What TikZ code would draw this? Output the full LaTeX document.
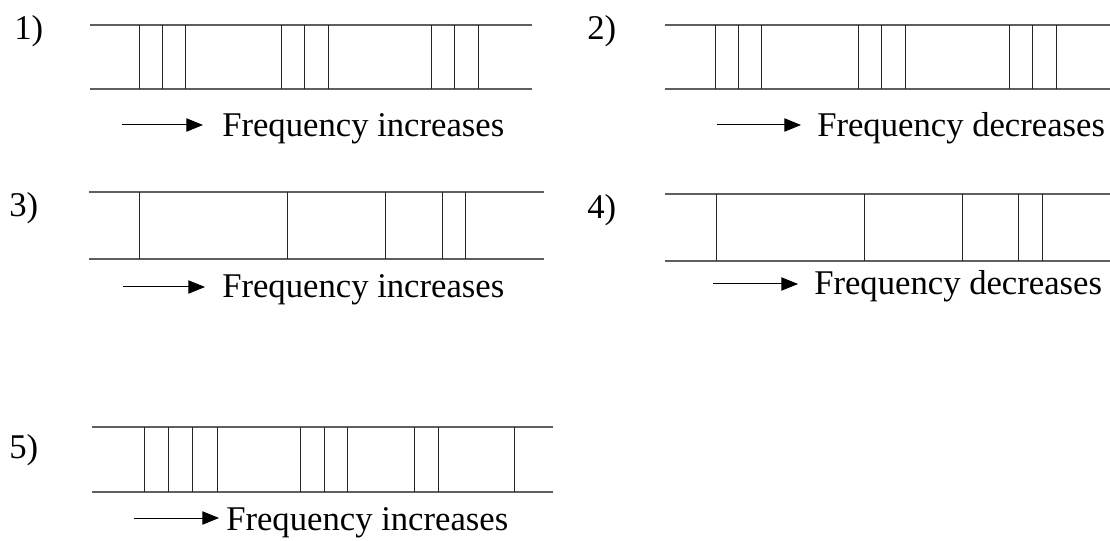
\documentclass[tikz,border=0pt]{standalone}
\usepackage{fontspec}
\setmainfont{Liberation Serif}
\usetikzlibrary{arrows.meta}
\tikzset{
  rail/.style={draw={rgb,255:red,95;green,95;blue,95}, line width=1.3pt},
  bar/.style={draw=black!85, line width=0.75pt},
  lbl/.style={inner sep=0pt, anchor=base west, font=\fontsize{26}{31}\selectfont},
  arr/.style={line width=0.75pt, -{Triangle[length=12.5pt,width=10pt]}},
}
\begin{document}
\begin{tikzpicture}[x=0.75pt,y=-0.75pt]
\useasboundingbox (0,0) rectangle (1110,541);
% panel 1
\draw[rail] (90,25) -- (532,25);
\draw[rail] (90,89) -- (532,89);
\foreach \x in {139,162,185,281,304,328,431,454,478} \draw[bar] (\x,25) -- (\x,89);
\node[lbl] (n1) at (14,40) {1)};
\coordinate (a1) at (122,125);
\node[lbl] (t1) at (222,137) {Frequency increases};
\draw[arr] (a1) -- (203,125);
% panel 2
\draw[rail] (665,25) -- (1110,25);
\draw[rail] (665,89) -- (1110,89);
\foreach \x in {715,738,761,858,881,905,1009,1032,1056} \draw[bar] (\x,25) -- (\x,89);
\node[lbl] (n2) at (587,40) {2)};
\coordinate (a2) at (717,125);
\node[lbl] (t2) at (817,137) {Frequency decreases};
\draw[arr] (a2) -- (801,125);
% panel 3
\draw[rail] (89,192) -- (544,192);
\draw[rail] (89,259) -- (544,259);
\foreach \x in {139,287,385,442,465} \draw[bar] (\x,192) -- (\x,259);
\node[lbl] (n3) at (9,217) {3)};
\coordinate (a3) at (123,287);
\node[lbl] (t3) at (222,298) {Frequency increases};
\draw[arr] (a3) -- (205,287);
% panel 4
\draw[rail] (665,194) -- (1110,194);
\draw[rail] (665,261) -- (1110,261);
\foreach \x in {716,864,962,1018,1042} \draw[bar] (\x,194) -- (\x,261);
\node[lbl] (n4) at (587,219) {4)};
\coordinate (a4) at (713,284);
\node[lbl] (t4) at (814,295) {Frequency decreases};
\draw[arr] (a4) -- (798,284);
% panel 5
\draw[rail] (92,427) -- (553,427);
\draw[rail] (92,492) -- (553,492);
\foreach \x in {144,168,192,217,300,324,347,414,438,514} \draw[bar] (\x,427) -- (\x,492);
\node[lbl] (n5) at (9,458) {5)};
\coordinate (a5) at (134,518);
\node[lbl] (t5) at (226,530) {Frequency increases};
\draw[arr] (a5) -- (219,518);
\end{tikzpicture}
\end{document}
